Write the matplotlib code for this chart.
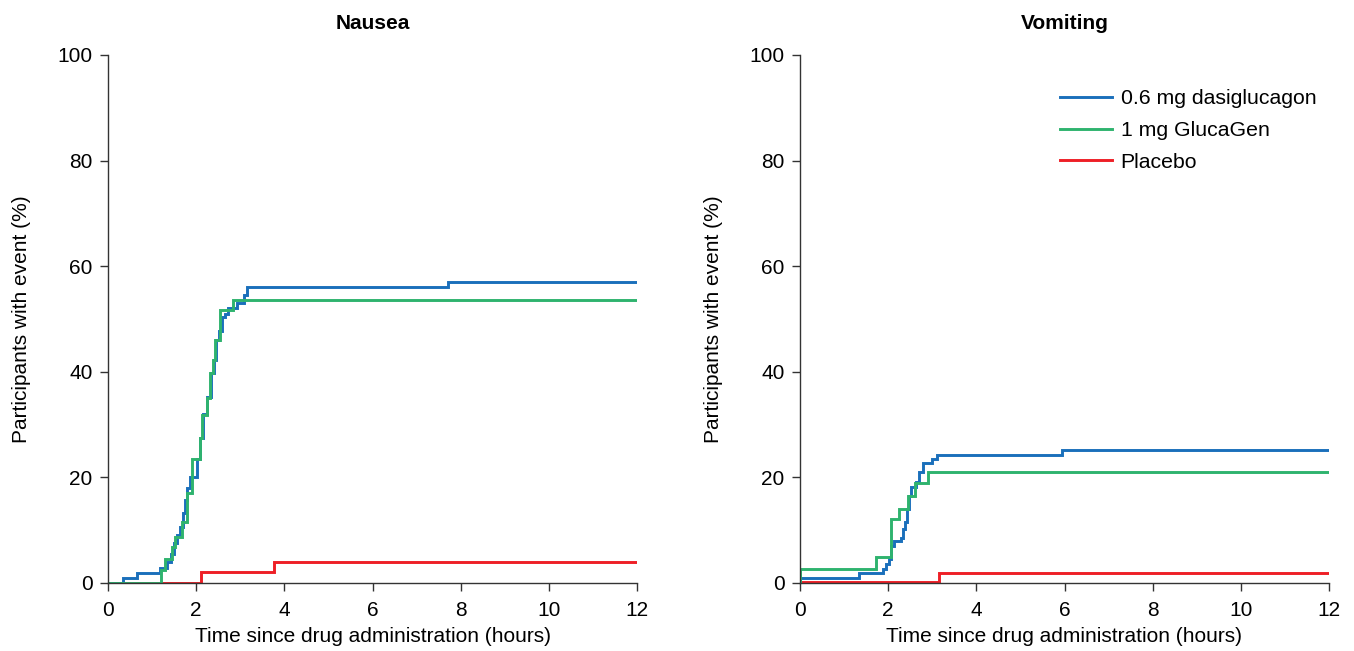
import numpy as np
import matplotlib
matplotlib.use('Agg')
import matplotlib.pyplot as plt

plt.rcParams.update({
    "font.family": ["Liberation Sans", "DejaVu Sans"],
    "font.size": 15,
    "axes.linewidth": 1.0,
    "axes.edgecolor": "#333333",
    "xtick.color": "#333333",
    "ytick.color": "#333333",
    "xtick.labelcolor": "black",
    "ytick.labelcolor": "black",
})

BLUE = "#1a6fbb"
GREEN = "#2fb36e"
RED = "#ee1f26"

series_labels = ["0.6 mg dasiglucagon", "1 mg GlucaGen", "Placebo"]
panel_titles = ["Nausea", "Vomiting"]

# Nausea (time in hours, % participants)
nausea_dasi_t = [0, 0.33, 0.65, 1.17, 1.33, 1.42, 1.50, 1.56, 1.63, 1.69, 1.74, 1.80, 1.86,
                 2.01, 2.09, 2.16, 2.25, 2.33, 2.40, 2.46, 2.52, 2.58, 2.65, 2.73, 2.92,
                 3.08, 3.15, 7.71, 12]
nausea_dasi_p = [0, 0.9, 1.9, 2.8, 4.0, 5.5, 7.5, 9.0, 10.7, 13.2, 15.7, 18.0, 20.1,
                 23.5, 27.4, 32.1, 35.3, 39.7, 42.2, 46.0, 47.7, 50.4, 51.0, 52.0, 53.0,
                 54.5, 56.0, 57.0, 57.0]
nausea_gluca_t = [0, 1.20, 1.30, 1.45, 1.52, 1.67, 1.80, 1.90, 2.09, 2.14, 2.25, 2.31,
                  2.38, 2.42, 2.55, 2.84, 12]
nausea_gluca_p = [0, 2.5, 4.5, 6.8, 8.8, 11.6, 17.0, 23.5, 27.4, 31.9, 35.0, 39.7,
                  42.2, 46.0, 51.7, 53.6, 53.6]
nausea_plac_t = [0, 2.12, 3.77, 12]
nausea_plac_p = [0, 2.0, 3.9, 3.9]

# Vomiting
vomit_dasi_t = [0, 0, 1.33, 1.89, 1.95, 2.02, 2.07, 2.14, 2.30, 2.33, 2.38, 2.43, 2.47,
                2.52, 2.64, 2.70, 2.78, 3.00, 3.11, 5.94, 12]
vomit_dasi_p = [0, 1.0, 1.9, 2.65, 3.6, 4.5, 7.1, 8.0, 8.6, 10.2, 11.5, 14.0, 16.5,
                18.1, 19.1, 21.0, 22.7, 23.4, 24.2, 25.2, 25.2]
vomit_gluca_t = [0, 0, 1.73, 2.07, 2.24, 2.45, 2.62, 2.90, 12]
vomit_gluca_p = [0, 2.65, 5.0, 12.1, 14.1, 16.5, 18.9, 21.1, 21.1]
vomit_plac_t = [0, 3.15, 12]
vomit_plac_p = [0.25, 1.8, 1.8]

panels = [
    [(nausea_plac_t, nausea_plac_p, RED), (nausea_dasi_t, nausea_dasi_p, BLUE),
     (nausea_gluca_t, nausea_gluca_p, GREEN)],
    [(vomit_plac_t, vomit_plac_p, RED), (vomit_dasi_t, vomit_dasi_p, BLUE),
     (vomit_gluca_t, vomit_gluca_p, GREEN)],
]

fig = plt.figure(figsize=(13.54, 6.51), dpi=100)
lefts = [108 / 1354, 800 / 1354]
axes = []
for i, left in enumerate(lefts):
    ax = fig.add_axes([left, 68 / 651, 529 / 1354, 528 / 651])
    for t, p, c in panels[i]:
        ax.step(t, p, where='post', color=c, lw=2.1, solid_joinstyle='miter')
    ax.set_xlim(0, 12)
    ax.set_ylim(0, 100)
    ax.set_xticks(np.arange(0, 13, 2))
    ax.set_yticks(np.arange(0, 101, 20))
    ax.spines['top'].set_visible(False)
    ax.spines['right'].set_visible(False)
    ax.tick_params(direction='out', length=6, width=1.0, labelsize=15)
    ax.tick_params(axis='x', pad=7)
    ax.tick_params(axis='y', pad=5)
    ax.set_xlabel("Time since drug administration (hours)", fontsize=15, labelpad=5)
    ax.set_ylabel("Participants with event (%)", fontsize=15, labelpad=19)
    ax.set_title(panel_titles[i], fontsize=15, fontweight='bold', pad=19)
    axes.append(ax)

# legend on the vomiting panel
handles = [plt.Line2D([], [], color=c, lw=2.1) for c in (BLUE, GREEN, RED)]
axes[1].legend(handles, series_labels, loc='upper right', bbox_to_anchor=(1.012, 0.971),
               frameon=False, fontsize=15.3, handlelength=2.45, handletextpad=0.4,
               labelspacing=0.6)

fig.savefig("out.png", dpi=100)
